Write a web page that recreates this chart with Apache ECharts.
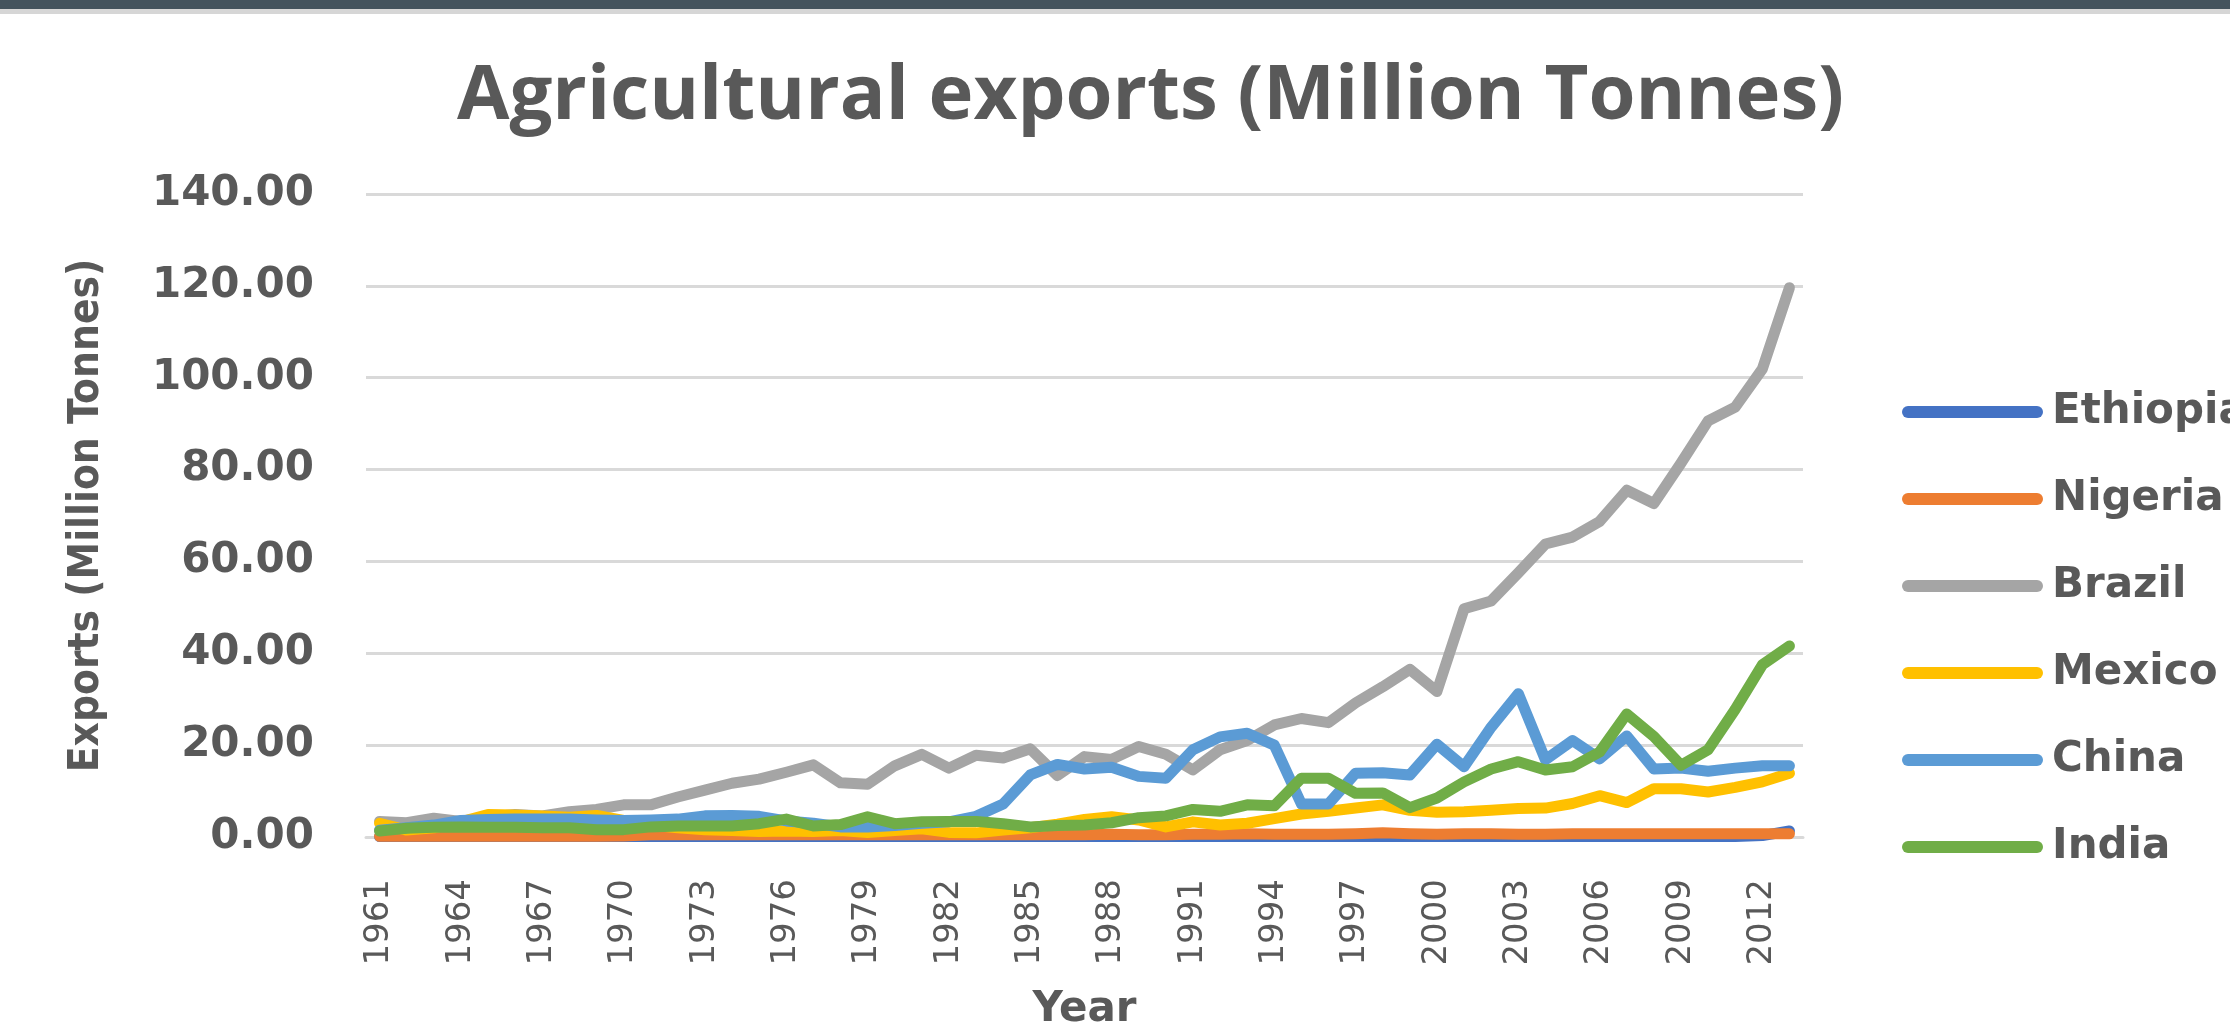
<!DOCTYPE html>
<html>
<head>
<meta charset="utf-8">
<script src="https://cdn.jsdelivr.net/npm/echarts@6/dist/echarts.min.js"></script>
<style>
html,body{margin:0;padding:0;background:#fff;}
#chart{width:2230px;height:1025px;}
</style>
</head>
<body>
<div id="chart"></div>
<script>
const years = [];
for (let y = 1961; y <= 2013; y++) years.push(String(y));

const seriesNames = ['Ethiopia', 'Nigeria', 'Brazil', 'Mexico', 'China', 'India'];
const seriesColors = ['#4472C4', '#ED7D31', '#A5A5A5', '#FFC000', '#5B9BD5', '#70AD47'];

const ethiopia = [0.1,0.1,0.1,0.1,0.1,0.1,0.1,0.1,0.1,0.1,
  0.1,0.1,0.1,0.1,0.1,0.1,0.1,0.1,0.1,0.1,
  0.1,0.1,0.1,0.1,0.1,0.1,0.1,0.1,0.1,0.1,
  0.1,0.1,0.1,0.1,0.1,0.1,0.1,0.1,0.1,0.1,
  0.1,0.1,0.1,0.1,0.1,0.1,0.1,0.1,0.1,0.1,
  0.1,0.3,1.3];
const nigeria = [0.15,0.15,0.15,0.15,0.15,0.15,0.15,0.15,0.15,0.2,
  0.5,0.5,0.5,0.5,0.5,0.5,0.5,0.5,0.5,0.5,
  0.5,0.5,0.5,0.5,0.5,0.5,0.5,0.6,0.5,0.5,
  0.6,0.6,0.7,0.6,0.6,0.6,0.7,0.9,0.7,0.6,
  0.7,0.7,0.6,0.6,0.7,0.7,0.7,0.7,0.7,0.7,
  0.7,0.7,0.7];
const brazil = [3.4,3.1,4.1,3.4,4.3,4.9,4.6,5.5,6.0,7.0,
  7.0,8.7,10.2,11.7,12.6,14.1,15.7,11.8,11.5,15.5,
  18.0,15.0,17.8,17.2,19.2,13.4,17.5,16.9,19.7,18.0,
  14.6,19.0,21.0,24.4,25.8,24.9,29.2,32.7,36.5,31.7,
  49.7,51.4,57.5,63.8,65.3,68.7,75.5,72.6,81.4,90.6,
  93.6,101.9,119.6];
const mexico = [3.0,1.5,2.0,3.3,4.9,4.8,4.6,4.3,4.7,3.6,
  2.6,2.0,1.6,1.4,1.2,1.3,1.2,1.4,1.0,1.4,
  1.8,1.0,0.9,1.5,2.0,2.8,3.8,4.4,3.7,2.2,
  3.3,2.6,3.0,4.0,5.0,5.6,6.3,7.0,5.8,5.4,
  5.5,5.8,6.2,6.3,7.3,9.0,7.5,10.5,10.5,9.8,
  10.8,12.0,13.9];
const china = [1.5,2.0,2.6,3.6,3.8,3.9,3.9,3.9,3.7,3.6,
  3.7,3.9,4.6,4.7,4.5,3.5,3.0,2.2,2.2,2.5,
  3.0,3.3,4.5,7.2,13.5,15.8,14.8,15.2,13.2,12.8,
  19.0,21.8,22.6,20.0,7.2,7.2,13.9,14.0,13.5,20.2,
  15.3,23.9,31.2,16.8,21.0,17.0,22.0,14.8,15.0,14.3,
  15.0,15.5,15.5];
const india = [1.3,1.9,2.1,2.2,2.1,2.1,2.0,2.0,1.6,1.6,
  2.2,2.4,2.4,2.4,2.9,3.9,2.4,2.7,4.4,2.9,
  3.3,3.4,3.4,2.9,2.2,2.5,2.6,3.1,4.2,4.6,
  6.0,5.6,7.0,6.8,12.8,12.8,9.5,9.6,6.4,8.5,
  12.0,14.8,16.4,14.6,15.3,18.5,26.8,21.9,15.6,19.0,
  27.8,37.5,41.6];

const seriesData = [ethiopia, nigeria, brazil, mexico, china, india];

const chart = echarts.init(document.getElementById('chart'), null, {renderer: 'canvas'});

const txt = '#595959';

const option = {
  animation: false,
  backgroundColor: '#ffffff',
  graphic: [
    {type: 'rect', left: 0, top: 0, shape: {width: 2230, height: 9}, style: {fill: '#44535d'}, silent: true},
    {type: 'rect', left: 0, top: 9, shape: {width: 2230, height: 5}, style: {fill: '#d6d6d6'}, silent: true}
  ],
  title: {
    text: 'Agricultural exports (Million Tonnes)',
    left: 452,
    top: 54,
    textStyle: {
      fontFamily: 'Open Sans',
      fontWeight: 'bold',
      fontSize: 76,
      color: txt
    }
  },
  legend: {
    orient: 'vertical',
    left: 1897,
    top: 386,
    itemWidth: 141,
    itemHeight: 12,
    itemGap: 45,
    icon: 'path://M6,0 L135,0 A6,6 0 0 1 135,12 L6,12 A6,6 0 0 1 6,0 Z',
    data: seriesNames,
    textStyle: {
      fontFamily: 'DejaVu Sans',
      fontWeight: 'bold',
      fontSize: 42,
      lineHeight: 40,
      color: txt,
      padding: [0, 0, 0, 4]
    }
  },
  grid: {
    left: 366,
    right: 427,
    top: 194,
    bottom: 188,
    containLabel: false,
    outerBoundsMode: 'none'
  },
  xAxis: {
    type: 'category',
    data: years,
    boundaryGap: true,
    name: 'Year',
    nameLocation: 'middle',
    nameGap: 152,
    nameTextStyle: {
      fontFamily: 'DejaVu Sans',
      fontWeight: 'bold',
      fontSize: 42,
      color: txt
    },
    axisLine: {show: true, lineStyle: {color: '#d9d9d9', width: 3}},
    axisTick: {show: false},
    axisLabel: {
      interval: 2,
      rotate: 90,
      margin: 42,
      fontFamily: 'DejaVu Sans',
      fontSize: 34,
      color: txt
    },
    splitLine: {show: false}
  },
  yAxis: {
    type: 'value',
    min: 0,
    max: 140,
    interval: 20,
    name: 'Exports (Million Tonnes)',
    nameLocation: 'middle',
    nameGap: 258,
    nameRotate: 90,
    nameTextStyle: {
      fontFamily: 'DejaVu Sans Condensed',
      fontWeight: 'bold',
      fontSize: 42,
      color: txt
    },
    axisLine: {show: false},
    axisTick: {show: false},
    axisLabel: {
      margin: 52,
      fontFamily: 'DejaVu Sans',
      fontWeight: 'bold',
      fontSize: 42,
      color: txt,
      formatter: v => v.toFixed(2)
    },
    splitLine: {show: true, lineStyle: {color: '#d9d9d9', width: 3}}
  },
  series: seriesNames.map((name, i) => ({
    name: name,
    type: 'line',
    data: seriesData[i],
    showSymbol: false,
    symbol: 'none',
    lineStyle: {width: 11, color: seriesColors[i], cap: 'round', join: 'round'},
    itemStyle: {color: seriesColors[i]},
    emphasis: {disabled: true}
  }))
};

chart.setOption(option);
</script>
</body>
</html>
